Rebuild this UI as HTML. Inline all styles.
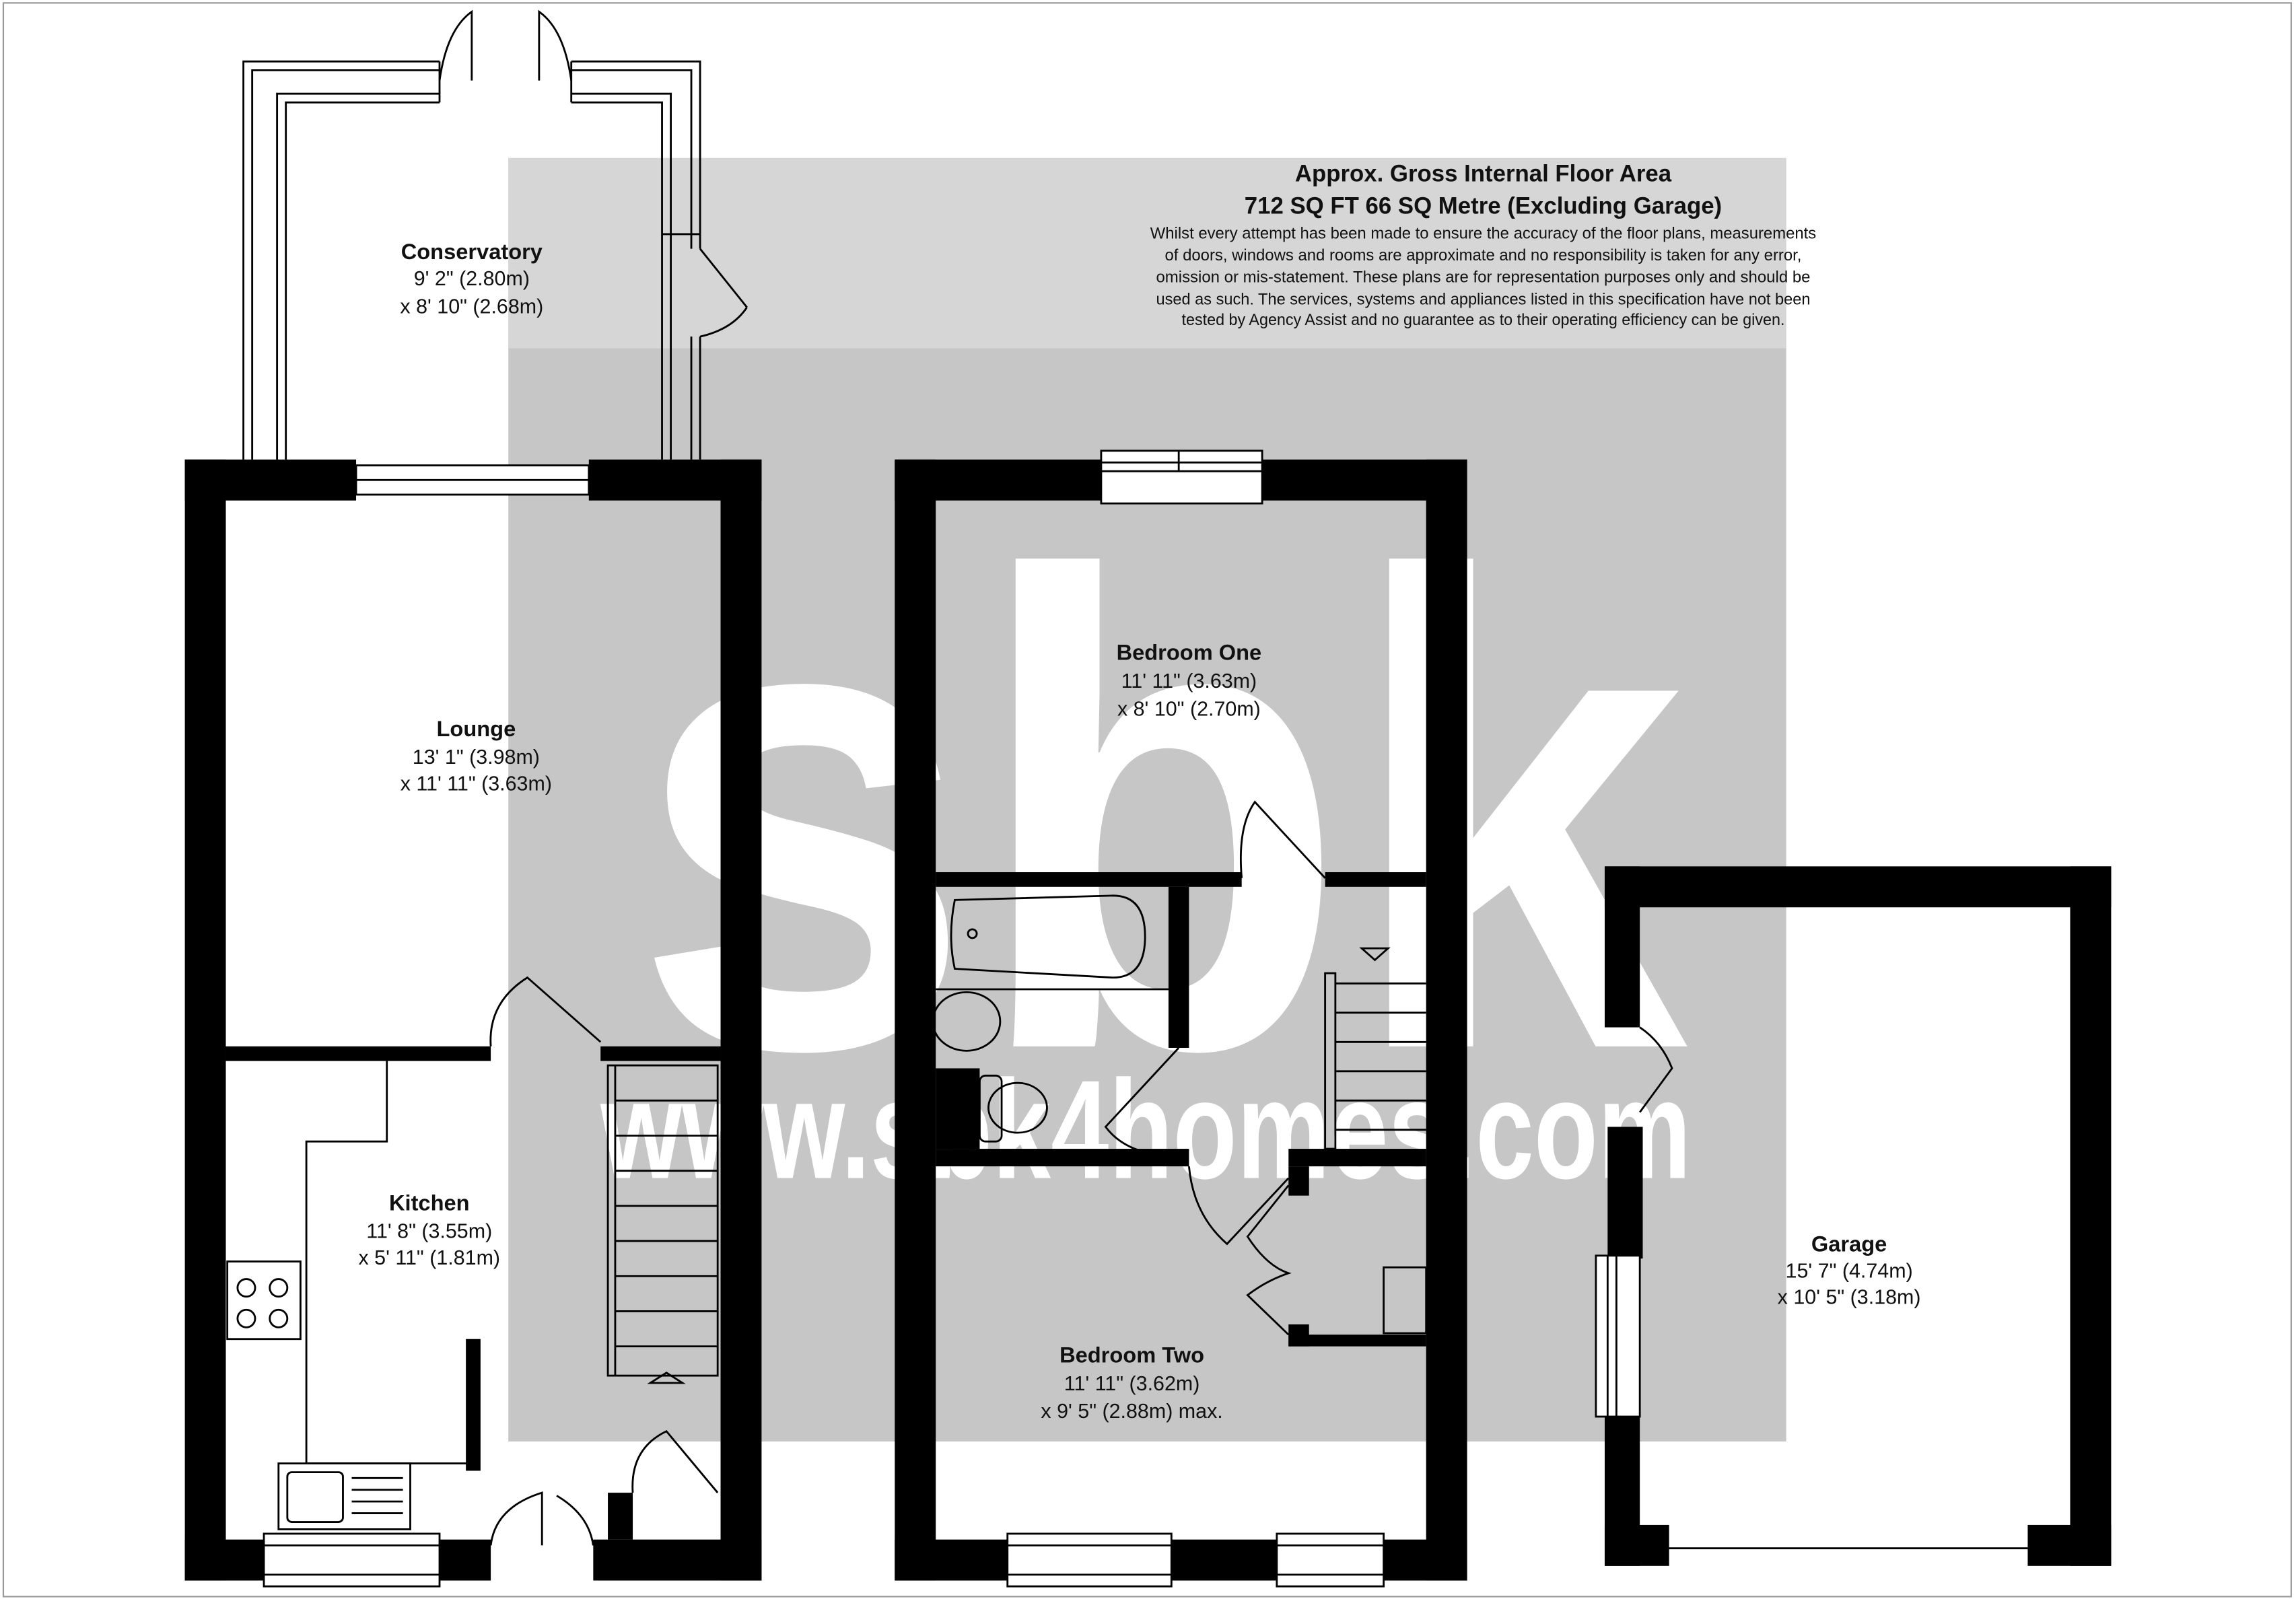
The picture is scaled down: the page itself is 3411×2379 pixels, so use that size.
<!DOCTYPE html>
<html><head><meta charset="utf-8"><style>
html,body{margin:0;padding:0;background:#fff;}
svg{display:block;}
text{font-family:"Liberation Sans",sans-serif;}
</style></head><body>
<svg width="3411" height="2379" viewBox="0 0 1568 1094" xmlns="http://www.w3.org/2000/svg">
<rect x="0" y="0" width="1568" height="1094" fill="#fff"/>
<rect x="2" y="2" width="1563" height="1089" fill="none" stroke="#999" stroke-width="1"/>
<!-- watermark background -->
<rect x="347" y="108" width="873" height="877" fill="#c6c6c6"/>
<rect x="347" y="108" width="873" height="130" fill="#d6d6d6"/>
<text x="432" y="715" font-size="460" font-weight="bold" fill="#fff" textLength="720" lengthAdjust="spacingAndGlyphs">sbk</text>
<text x="410" y="805" font-size="96" font-weight="bold" fill="#fff" textLength="745" lengthAdjust="spacingAndGlyphs">www.sbk4homes.com</text>

<!-- header text -->
<text x="1013" y="124" font-size="16" font-weight="bold" text-anchor="middle" fill="#111">Approx. Gross Internal Floor Area</text>
<text x="1013" y="146" font-size="16" font-weight="bold" text-anchor="middle" fill="#111">712 SQ FT 66 SQ Metre (Excluding Garage)</text>
<g font-size="11" fill="#111" text-anchor="middle">
<text x="1013" y="163" textLength="455" lengthAdjust="spacingAndGlyphs">Whilst every attempt has been made to ensure the accuracy of the floor plans, measurements</text>
<text x="1013" y="178" textLength="435" lengthAdjust="spacingAndGlyphs">of doors, windows and rooms are approximate and no responsibility is taken for any error,</text>
<text x="1013" y="193" textLength="447" lengthAdjust="spacingAndGlyphs">omission or mis-statement. These plans are for representation purposes only and should be</text>
<text x="1013" y="208" textLength="447" lengthAdjust="spacingAndGlyphs">used as such. The services, systems and appliances listed in this specification have not been</text>
<text x="1013" y="222" textLength="412" lengthAdjust="spacingAndGlyphs">tested by Agency Assist and no guarantee as to their operating efficiency can be given.</text>
</g>

<!-- Conservatory frame -->
<g fill="none" stroke="#000" stroke-width="1.3">
<path d="M166 314 V42 H300 M195 314 V70 H300 M172 314 V48 H300 M189 314 V64 H300"/>
<path d="M390 42 H478 V160 M390 70 H452 V160 M390 48 H472 V160 M390 64 H458 V160"/>
<path d="M452 160 V314 M478 160 V170 M478 230 V314 M458 160 V314 M472 160 V170 M472 230 V314"/>
<path d="M452 160 H478"/>
<path d="M300 42 L300 70 M390 42 L390 70"/>
<path d="M300 55 Q305 20 322 8 L322 55 M390 55 Q385 20 368 8 L368 55"/>
<path d="M478 170 L510 210 M478 230 Q500 225 510 210"/>
</g>

<!-- LEFT BLOCK -->
<g fill="#000">
<rect x="126" y="314" width="117" height="28"/>
<rect x="402" y="314" width="118" height="28"/>
<rect x="126" y="314" width="28" height="766"/>
<rect x="492" y="314" width="28" height="766"/>
<rect x="126" y="1052" width="54" height="28"/>
<rect x="300" y="1052" width="35" height="28"/>
<rect x="405" y="1052" width="115" height="28"/>
<rect x="154" y="715" width="181" height="10"/>
<rect x="410" y="715" width="82" height="10"/>
<rect x="318" y="915" width="10" height="90"/>
<rect x="415" y="1020" width="17" height="32"/>
</g>
<g fill="none" stroke="#000" stroke-width="1.3">
<!-- lounge window -->
<rect x="243" y="318" width="159" height="20" fill="#fff"/>
<line x1="243" y1="328" x2="402" y2="328"/>
<!-- kitchen window -->
<rect x="180" y="1048" width="120" height="36" fill="#fff"/>
<line x1="180" y1="1056" x2="300" y2="1056"/><line x1="180" y1="1076" x2="300" y2="1076"/>
<!-- lounge door -->
<path d="M335 715 Q333 685 360 668 L410 712"/>
<!-- kitchen counter -->
<path d="M264 725 V780 H209 V1000 H320"/>
<!-- cooker -->
<rect x="155" y="862" width="50" height="53"/>
<circle cx="168" cy="880" r="6"/><circle cx="190" cy="880" r="6"/>
<circle cx="168" cy="901" r="6"/><circle cx="190" cy="901" r="6"/>
<!-- sink -->
<rect x="190" y="1000" width="90" height="45"/>
<rect x="196" y="1006" width="38" height="34" rx="3"/>
<line x1="240" y1="1010" x2="275" y2="1010"/><line x1="240" y1="1018" x2="275" y2="1018"/>
<line x1="240" y1="1026" x2="275" y2="1026"/><line x1="240" y1="1034" x2="275" y2="1034"/>
<!-- stairs -->
<rect x="415" y="728" width="75" height="212"/>
<line x1="420" y1="728" x2="420" y2="940"/>
<line x1="420" y1="752" x2="490" y2="752"/><line x1="420" y1="776" x2="490" y2="776"/>
<line x1="420" y1="800" x2="490" y2="800"/><line x1="420" y1="824" x2="490" y2="824"/>
<line x1="420" y1="848" x2="490" y2="848"/><line x1="420" y1="872" x2="490" y2="872"/>
<line x1="420" y1="896" x2="490" y2="896"/><line x1="420" y1="920" x2="490" y2="920"/>
<path d="M444 945 L455 938 L466 945 Z"/>
<!-- front door -->
<path d="M335 1056 Q338 1030 370 1020 L370 1056 M405 1056 Q402 1035 380 1022"/>
<!-- cupboard door -->
<path d="M432 1020 Q430 990 455 978 L490 1020"/>
</g>

<!-- RIGHT BLOCK -->
<g fill="#000">
<rect x="611" y="314" width="141" height="28"/>
<rect x="862" y="314" width="140" height="28"/>
<rect x="611" y="314" width="28" height="766"/>
<rect x="974" y="314" width="28" height="766"/>
<rect x="611" y="1052" width="77" height="28"/>
<rect x="800" y="1052" width="72" height="28"/>
<rect x="945" y="1052" width="57" height="28"/>
<rect x="639" y="596" width="209" height="10"/>
<rect x="905" y="596" width="69" height="10"/>
<rect x="798" y="606" width="14" height="110"/>
<rect x="639" y="785" width="173" height="12"/>
<rect x="880" y="785" width="94" height="12"/>
<rect x="639" y="730" width="30" height="55"/>
<rect x="880" y="797" width="14" height="20"/>
<rect x="880" y="905" width="14" height="15"/>
<rect x="880" y="912" width="94" height="8"/>
</g>
<g fill="none" stroke="#000" stroke-width="1.3">
<rect x="752" y="308" width="110" height="36" fill="#fff"/>
<line x1="752" y1="316" x2="862" y2="316"/><line x1="752" y1="322" x2="862" y2="322"/>
<line x1="805" y1="308" x2="805" y2="322"/>
<rect x="688" y="1048" width="112" height="36" fill="#fff"/>
<line x1="688" y1="1056" x2="800" y2="1056"/><line x1="688" y1="1076" x2="800" y2="1076"/>
<rect x="872" y="1048" width="73" height="36" fill="#fff"/>
<line x1="872" y1="1056" x2="945" y2="1056"/><line x1="872" y1="1076" x2="945" y2="1076"/>
<!-- bedroom one door -->
<path d="M848 600 Q845 565 857 548 L905 600"/>
<!-- bath -->
<path d="M652 615 Q647 640 652 662 L760 668 Q782 668 782 640 Q782 612 760 612 Z"/>
<circle cx="664" cy="638" r="3"/>
<line x1="639" y1="676" x2="798" y2="676"/>
<!-- basin -->
<ellipse cx="660" cy="698" rx="23" ry="20"/>
<!-- toilet -->
<rect x="669" y="735" width="15" height="45" rx="4"/>
<ellipse cx="695" cy="757" rx="20" ry="17"/>
<!-- bath door -->
<path d="M805 716 L755 770 Q770 790 805 790"/>
<!-- stairs up -->
<rect x="905" y="665" width="7" height="120"/>
<line x1="912" y1="672" x2="974" y2="672"/><line x1="912" y1="692" x2="974" y2="692"/>
<line x1="912" y1="712" x2="974" y2="712"/><line x1="912" y1="732" x2="974" y2="732"/>
<line x1="912" y1="752" x2="974" y2="752"/><line x1="912" y1="772" x2="974" y2="772"/>
<path d="M930 648 L948 648 L939 656 Z"/>
<!-- bedroom two door -->
<path d="M812 797 Q815 830 838 850 L880 805"/>
<!-- cupboard doors -->
<path d="M880 810 L852 845 Q865 865 880 870 Q865 875 852 885 L880 912"/>
<rect x="945" y="866" width="29" height="45"/>
</g>

<!-- GARAGE -->
<g fill="#000">
<rect x="1096" y="592" width="346" height="28"/>
<rect x="1414" y="592" width="28" height="478"/>
<rect x="1096" y="592" width="24" height="110"/>
<rect x="1098" y="770" width="24" height="90"/>
<rect x="1096" y="968" width="24" height="102"/>
<rect x="1096" y="1042" width="44" height="28"/>
<rect x="1385" y="1042" width="57" height="28"/>
</g>
<g fill="none" stroke="#000" stroke-width="1.3">
<line x1="1140" y1="1058" x2="1385" y2="1058"/>
<rect x="1090" y="858" width="30" height="110" fill="#fff"/>
<line x1="1098" y1="858" x2="1098" y2="968"/><line x1="1104" y1="858" x2="1104" y2="968"/>
<path d="M1120 702 Q1135 712 1142 730 L1120 760"/>
</g>

<!-- Room labels -->
<g text-anchor="middle" fill="#111">
<text x="322" y="177" font-size="15" font-weight="bold">Conservatory</text>
<text x="322" y="195" font-size="14">9' 2" (2.80m)</text>
<text x="322" y="214" font-size="14">x 8' 10" (2.68m)</text>
<text x="325" y="503" font-size="15" font-weight="bold">Lounge</text>
<text x="325" y="522" font-size="14">13' 1" (3.98m)</text>
<text x="325" y="540" font-size="14">x 11' 11" (3.63m)</text>
<text x="293" y="827" font-size="15" font-weight="bold">Kitchen</text>
<text x="293" y="846" font-size="14">11' 8" (3.55m)</text>
<text x="293" y="864" font-size="14">x 5' 11" (1.81m)</text>
<text x="812" y="451" font-size="15" font-weight="bold">Bedroom One</text>
<text x="812" y="470" font-size="14">11' 11" (3.63m)</text>
<text x="812" y="489" font-size="14">x 8' 10" (2.70m)</text>
<text x="773" y="931" font-size="15" font-weight="bold">Bedroom Two</text>
<text x="773" y="950" font-size="14">11' 11" (3.62m)</text>
<text x="773" y="969" font-size="14">x 9' 5" (2.88m) max.</text>
<text x="1263" y="855" font-size="15" font-weight="bold">Garage</text>
<text x="1263" y="873" font-size="14">15' 7" (4.74m)</text>
<text x="1263" y="891" font-size="14">x 10' 5" (3.18m)</text>
</g>
</svg>
</body></html>
